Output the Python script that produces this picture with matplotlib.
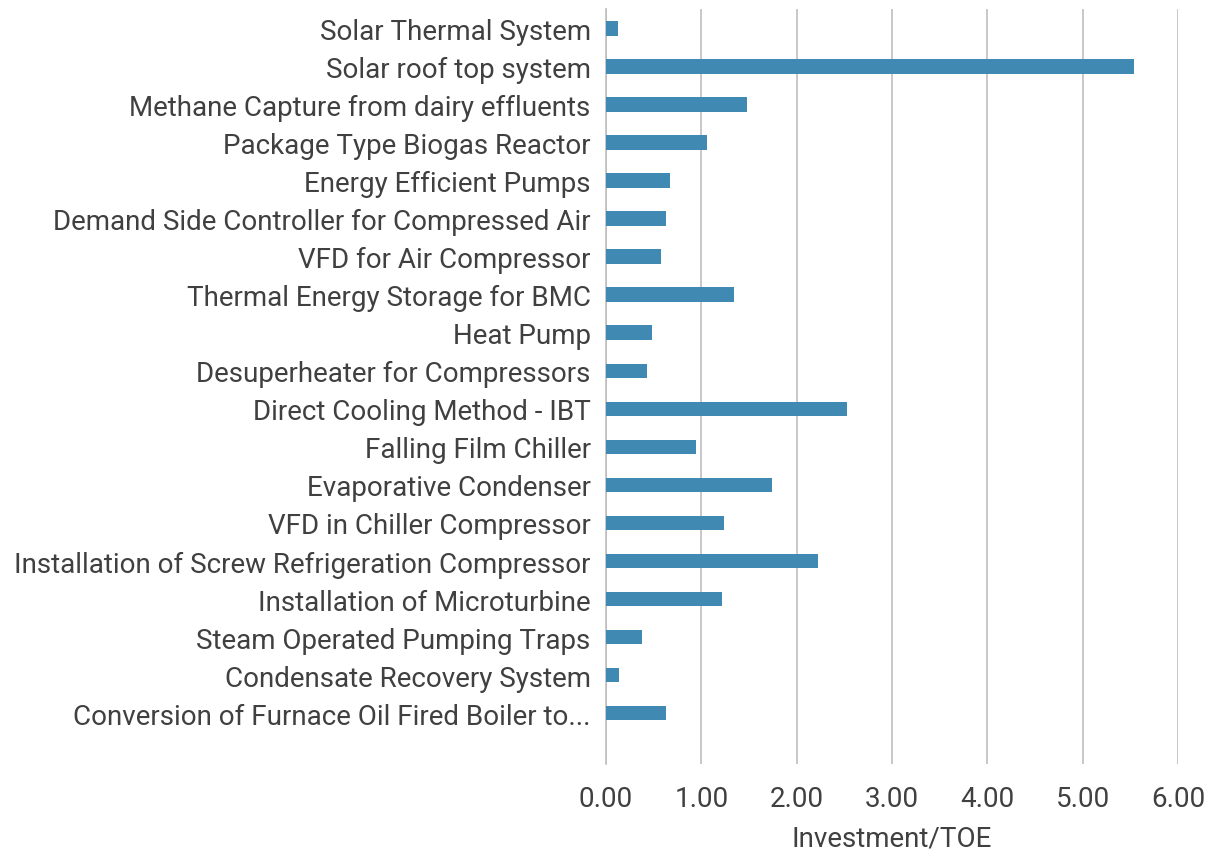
import matplotlib as mpl
mpl.use('Agg')
import matplotlib.pyplot as plt
import numpy as np

categories = [
    'Solar Thermal System',
    'Solar roof top system',
    'Methane Capture from dairy effluents',
    'Package Type Biogas Reactor',
    'Energy Efficient Pumps',
    'Demand Side Controller for Compressed Air',
    'VFD for Air Compressor',
    'Thermal Energy Storage for BMC',
    'Heat Pump',
    'Desuperheater for Compressors',
    'Direct Cooling Method - IBT',
    'Falling Film Chiller',
    'Evaporative Condenser',
    'VFD in Chiller Compressor',
    'Installation of Screw Refrigeration Compressor',
    'Installation of Microturbine',
    'Steam Operated Pumping Traps',
    'Condensate Recovery System',
    'Conversion of Furnace Oil Fired Boiler to...',
]
values = [0.13, 5.54, 1.48, 1.06, 0.67, 0.63, 0.58, 1.34, 0.48, 0.43,
          2.53, 0.94, 1.74, 1.24, 2.22, 1.22, 0.38, 0.14, 0.63]
xticks = [0, 1, 2, 3, 4, 5, 6]

plt.rcParams['font.family'] = ['Roboto', 'DejaVu Sans']
text_color = '#404040'
grid_color = '#BFBFBF'

fig = plt.figure(figsize=(12.2, 8.54), dpi=100)
ax = fig.add_axes([0.4967, 0.104, 0.4689, 0.884])

y = np.arange(len(categories))
ax.barh(y, values, height=0.38, color='#3F89B3', zorder=3)

ax.set_xlim(0, 6)
# extra empty space under the last bar, as in the original
ax.set_ylim(len(categories) - 1 + 1.34, -0.5)
ax.set_xticks(xticks)
ax.set_xticklabels(['%.2f' % t for t in xticks])
ax.set_yticks(y)
ax.set_yticklabels(categories)

ax.grid(axis='x', color=grid_color, linewidth=1.2, zorder=0)
for s in ['top', 'right', 'bottom']:
    ax.spines[s].set_visible(False)
ax.spines['left'].set_color(grid_color)
ax.spines['left'].set_linewidth(1.2)
ax.tick_params(axis='both', length=0, labelsize=20, colors=text_color)
ax.tick_params(axis='y', pad=11)
ax.tick_params(axis='x', pad=15)
ax.set_xlabel('Investment/TOE', fontsize=20, color=text_color, labelpad=9)

fig.savefig('out.png')
